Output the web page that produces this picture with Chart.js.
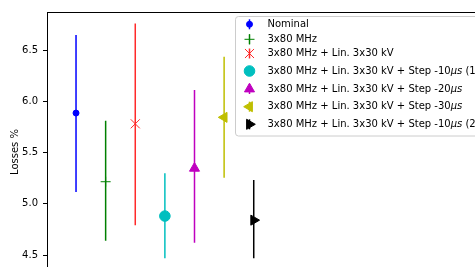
<!DOCTYPE html>
<html>
<head>
<meta charset="utf-8">
<script src="https://cdn.jsdelivr.net/npm/chart.js@4"></script>
<style>
html, body { margin: 0; padding: 0; overflow: hidden; background: #fff; }
#wrap { position: absolute; left: 0; top: 0; width: 520px; height: 303px; }
</style>
</head>
<body>
<div id="wrap"><canvas id="chart" width="520" height="303"></canvas></div>
<script>
// data
const seriesNames = [
    'Nominal',
    '3x80 MHz',
    '3x80 MHz + Lin. 3x30 kV',
    '3x80 MHz + Lin. 3x30 kV + Step -10μs (1)',
    '3x80 MHz + Lin. 3x30 kV + Step -20μs',
    '3x80 MHz + Lin. 3x30 kV + Step -30μs',
    '3x80 MHz + Lin. 3x30 kV + Step -10μs (2)'
];
const positions = [0, 1, 2, 3, 4, 5, 6];
const centers = [5.885, 5.215, 5.78, 4.88, 5.346, 5.843, 4.84];
const lows = [5.115, 4.64, 4.79, 4.468, 4.62, 5.254, 4.468];
const highs = [6.646, 5.81, 6.76, 5.297, 6.11, 6.435, 5.232];
const yTicks = [4.5, 5.0, 5.5, 6.0, 6.5];

// styles (matplotlib-ish)
const colors = ['#0000ff', '#008000', '#ff2a2a', '#00bfbf', '#bf00bf', '#bfbf00', '#000000'];
const markers = ['circle', 'cross', 'crossRot', 'circle', 'triangle', 'triangle', 'triangle'];
const markerRot = [0, 0, 0, 0, 0, -90, 90];
const markerRad = [3, 5, 6.4, 5.3, 5.8, 5.8, 5.8];
const legendRowY = [24.3, 39.3, 53.5, 71, 89, 106.7, 124.3];

const datasets = [];
positions.forEach((x, i) => {
    datasets.push({
        label: seriesNames[i] + ' err',
        data: [{ x: x, y: lows[i] }, { x: x, y: highs[i] }],
        showLine: true,
        borderColor: colors[i],
        borderWidth: 1.5,
        pointRadius: 0,
        pointHoverRadius: 0
    });
    datasets.push({
        label: seriesNames[i],
        data: [{ x: x, y: centers[i] }],
        pointStyle: markers[i],
        rotation: markerRot[i],
        pointRadius: markerRad[i],
        pointHoverRadius: markerRad[i],
        backgroundColor: colors[i],
        borderColor: colors[i],
        borderWidth: 1
    });
});

function drawMarker(ctx, i, x, y) {
    ctx.fillStyle = colors[i];
    ctx.strokeStyle = colors[i];
    ctx.lineWidth = 1;
    Chart.helpers.drawPoint(ctx, {
        pointStyle: markers[i],
        rotation: markerRot[i],
        radius: markerRad[i],
        borderWidth: 1
    }, x, y);
}

const frame = {
    id: 'frame',
    afterDraw(chart) {
        const ctx = chart.ctx;
        const a = chart.chartArea;
        ctx.save();
        // top spine
        ctx.strokeStyle = '#000';
        ctx.lineWidth = 1;
        ctx.beginPath();
        ctx.moveTo(a.left, a.top + 0.5);
        ctx.lineTo(a.right, a.top + 0.5);
        ctx.stroke();

        // legend box
        const bx = 235.5, by = 16.5, bw = 320, bh = 119.5, r = 3;
        ctx.beginPath();
        ctx.moveTo(bx + r, by);
        ctx.lineTo(bx + bw - r, by);
        ctx.arcTo(bx + bw, by, bx + bw, by + r, r);
        ctx.lineTo(bx + bw, by + bh - r);
        ctx.arcTo(bx + bw, by + bh, bx + bw - r, by + bh, r);
        ctx.lineTo(bx + r, by + bh);
        ctx.arcTo(bx, by + bh, bx, by + bh - r, r);
        ctx.lineTo(bx, by + r);
        ctx.arcTo(bx, by, bx + r, by, r);
        ctx.closePath();
        ctx.fillStyle = 'rgba(255,255,255,0.8)';
        ctx.fill();
        ctx.strokeStyle = '#cccccc';
        ctx.stroke();

        seriesNames.forEach((name, i) => {
            const y = legendRowY[i];
            const mx = 249.5;
            ctx.strokeStyle = colors[i];
            ctx.lineWidth = 1.5;
            ctx.beginPath();
            ctx.moveTo(mx, y - 5);
            ctx.lineTo(mx, y + 5);
            ctx.stroke();
            drawMarker(ctx, i, mx, y);

            // text, with μs in italic like mathtext
            let tx = 267.5;
            ctx.fillStyle = '#000';
            ctx.textBaseline = 'middle';
            ctx.textAlign = 'left';
            const parts = name.split('μs');
            parts.forEach((p, k) => {
                ctx.font = '10px "DejaVu Sans"';
                ctx.fillText(p, tx, y);
                tx += ctx.measureText(p).width;
                if (k < parts.length - 1) {
                    ctx.font = 'italic 10px "DejaVu Sans"';
                    ctx.fillText('μs', tx, y);
                    tx += ctx.measureText('μs').width;
                }
            });
        });
        ctx.restore();
    }
};

new Chart(document.getElementById('chart'), {
    type: 'scatter',
    data: { datasets: datasets },
    options: {
        responsive: false,
        animation: false,
        layout: { padding: { top: 12, bottom: 5, left: 0, right: 0 } },
        plugins: {
            legend: { display: false },
            tooltip: { enabled: false }
        },
        scales: {
            x: {
                type: 'linear',
                display: false,
                min: -0.98,
                max: 14.74
            },
            y: {
                type: 'linear',
                min: 4.139,
                max: 6.871,
                afterBuildTicks: s => { s.ticks = yTicks.map(v => ({ value: v })); },
                afterFit: s => { s.width = 47; },
                ticks: {
                    color: '#000',
                    padding: 5,
                    font: { family: 'DejaVu Sans', size: 10 },
                    callback: v => v.toFixed(1)
                },
                grid: {
                    drawOnChartArea: false,
                    drawTicks: true,
                    tickLength: 4,
                    color: '#000'
                },
                border: { display: true, color: '#000', width: 1 },
                title: {
                    display: true,
                    text: 'Losses %',
                    color: '#000',
                    font: { family: 'DejaVu Sans', size: 10 },
                    padding: { top: 9, bottom: 0 }
                }
            }
        }
    },
    plugins: [frame]
});
</script>
</body>
</html>
